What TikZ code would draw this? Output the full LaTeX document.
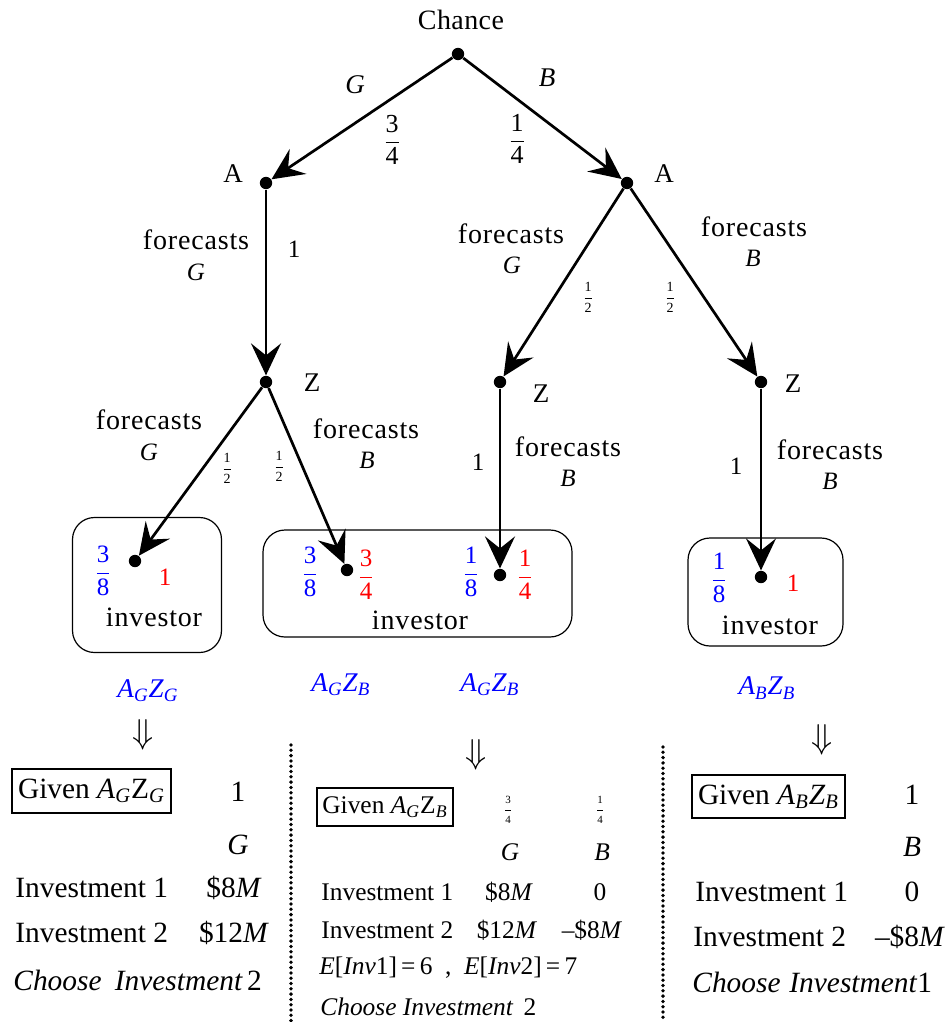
\documentclass[tikz,border=0pt]{standalone}
\usepackage{amsmath}
\usepackage{fontspec}
\setmainfont{Liberation Serif}
\usetikzlibrary{arrows.meta}
\definecolor{fblue}{RGB}{0,0,255}
\definecolor{fred}{RGB}{255,0,0}
\newcommand\fr[2]{$\genfrac{}{}{}{0}{\text{#1}}{\text{#2}}$}
\newcommand\lab[4]{#1\textsubscript{\textit{#2}}#3\textsubscript{\textit{#4}}}
\newcommand\fs[1]{\fontsize{#1}{#1}\selectfont}
\begin{document}
% coordinates are in reference pixels; 1 px = 0.5pt
\begin{tikzpicture}[x=0.5pt,y=-0.5pt,
  dot/.style={circle,fill=black,inner sep=0pt,minimum size=6.2pt},
  edge/.style={line width=1.35pt,-{Stealth[length=16pt,width=15pt,inset=6pt]}},
  t/.style={inner sep=0pt,font=\fs{13}},
  tl/.style={inner sep=0pt,font=\fs{13.5}},
  tm/.style={inner sep=0pt,font=\fs{12.5}},
  tb/.style={inner sep=0pt,font=\fs{14.7}},
  tc/.style={inner sep=0pt,font=\fs{12.7}},
  spaced/.style={inner sep=0pt,font=\fs{14}\addfontfeature{LetterSpace=3}},
  half/.style={inner sep=0pt,font=\fs{7}},
  tiny/.style={inner sep=0pt,font=\fs{5.5}},
  darr/.style={inner sep=0pt,font=\fs{17}},
  invbox/.style={draw,line width=0.6pt,rounded corners=11pt},
  givenbox/.style={draw,line width=0.6pt,inner sep=0pt},
  dots/.style={line width=1.9pt,dash pattern=on 0pt off 2.65pt,line cap=round}]
\useasboundingbox (0,0) rectangle (950,1022);

% tree nodes
\node[dot] (C) at (458,54) {};
\node[dot] (A1) at (266,183) {};
\node[dot] (A2) at (627,183) {};
\node[dot] (Z1) at (266,382) {};
\node[dot] (Z2) at (500,382) {};
\node[dot] (Z3) at (761,382) {};
\node[dot] (L1) at (135,561) {};
\node[dot] (L2) at (347,570) {};
\node[dot] (L3) at (500,575) {};
\node[dot] (L4) at (761,577) {};

% edges
\draw[edge] (C) -- (A1);
\draw[edge] (C) -- (A2);
\draw[edge] (A1) -- (Z1);
\draw[edge] (A2) -- (Z2);
\draw[edge] (A2) -- (Z3);
\draw[edge] (Z1) -- (L1);
\draw[edge] (Z1) -- (L2);
\draw[edge] (Z2) -- (L3);
\draw[edge] (Z3) -- (L4);

% top labels
\node[inner sep=0pt,font=\fs{14}\addfontfeature{LetterSpace=1.5}] (chance) at (461,20) {Chance};
\node[tl] (lA1) at (233,174) {A};
\node[tl] (lA2) at (664,174) {A};
\node[tl] (lZ1) at (312,383) {Z};
\node[tl] (lZ2) at (541,394) {Z};
\node[tl] (lZ3) at (793,384) {Z};
\node[tl] (lG) at (355,85) {\textit{G}};
\node[tl] (lB) at (547,78) {\textit{B}};
\node[t] (p34) at (392,140) {\fr{3}{4}};
\node[t] (p14) at (517,139) {\fr{1}{4}};

% forecast labels
\node[spaced] (f1) at (196,240) {forecasts};
\node[tm] (f1g) at (196,272) {\textit{G}};
\node[tm] (one1) at (294,249) {1};
\node[spaced] (f2) at (511,234) {forecasts};
\node[tm] (f2g) at (512,265) {\textit{G}};
\node[half] (h2) at (588,297) {\fr{1}{2}};
\node[spaced] (f3) at (754,227) {forecasts};
\node[tm] (f3b) at (753,258) {\textit{B}};
\node[half] (h3) at (670,297) {\fr{1}{2}};
\node[spaced] (f4) at (149,420) {forecasts};
\node[tm] (f4g) at (149,452) {\textit{G}};
\node[half] (h4) at (227,468) {\fr{1}{2}};
\node[spaced] (f5) at (366,429) {forecasts};
\node[tm] (f5b) at (367,460) {\textit{B}};
\node[half] (h5) at (279,466) {\fr{1}{2}};
\node[tm] (one2) at (478,462) {1};
\node[spaced] (f6) at (568,447) {forecasts};
\node[tm] (f6b) at (568,478) {\textit{B}};
\node[tm] (one3) at (736,466) {1};
\node[spaced] (f7) at (830,450) {forecasts};
\node[tm] (f7b) at (830,481) {\textit{B}};

% investor boxes
\node[invbox,minimum width=74.5pt,minimum height=67.5pt] (box1) at (147,585) {};
\node[invbox,minimum width=154.5pt,minimum height=53.5pt] (box2) at (417.5,583.5) {};
\node[invbox,minimum width=77.5pt,minimum height=54pt] (box3) at (765.5,592) {};
\node[tm,text=fblue] (b1a) at (103,571) {\fr{3}{8}};
\node[tm,text=fred] (b1b) at (165,577) {1};
\node[spaced] (inv1) at (154,617) {investor};
\node[tm,text=fblue] (b2a) at (310,572) {\fr{3}{8}};
\node[tm,text=fred] (b2b) at (366,575) {\fr{3}{4}};
\node[tm,text=fblue] (b2c) at (471,572) {\fr{1}{8}};
\node[tm,text=fred] (b2d) at (525,575) {\fr{1}{4}};
\node[spaced] (inv2) at (420,620) {investor};
\node[tm,text=fblue] (b3a) at (719,578) {\fr{1}{8}};
\node[tm,text=fred] (b3b) at (793,583) {1};
\node[spaced] (inv3) at (770,625) {investor};

% blue labels
\node[tl,text=fblue] (c1) at (148,691) {\lab{\textit{A}}{G}{\textit{Z}}{G}};
\node[tl,text=fblue] (c2) at (341,685) {\lab{\textit{A}}{G}{\textit{Z}}{B}};
\node[tl,text=fblue] (c3) at (490,685) {\lab{\textit{A}}{G}{\textit{Z}}{B}};
\node[tl,text=fblue] (c4) at (767,688) {\lab{\textit{A}}{B}{\textit{Z}}{B}};

% double arrows
\node[darr] (d1) at (143,735) {$\Downarrow$};
\node[darr] (d2) at (476,755) {$\Downarrow$};
\node[darr] (d3) at (822,740) {$\Downarrow$};

% dotted separators
\coordinate (s1a) at (291,745);
\coordinate (s1b) at (291,1022);
\coordinate (s2a) at (663,747);
\coordinate (s2b) at (663,1022);
\draw[dots] (s1a) -- (s1b);
\draw[dots] (s2a) -- (s2b);

% left column
\node[givenbox,tb,minimum width=79.5pt,minimum height=22pt] (g1) at (91.5,791) {Given \lab{\textit{A}}{G}{Z}{G}};
\node[tb] (l1p) at (238,792) {1};
\node[tb] (l1s) at (238,845) {\textit{G}};
\node[tb,anchor=west] (l1i1) at (15,888) {Investment 1};
\node[tb] (l1v1) at (234,888) {\$8\textit{M}};
\node[tb,anchor=west] (l1i2) at (15,933) {Investment 2};
\node[tb] (l1v2) at (234,933) {\$12\textit{M}};
\node[tb,anchor=west] (l1c) at (13,980) {\textit{Choose\hspace{0.45em}Investment}\hspace{0.15em}2};

% middle column
\node[givenbox,tc,minimum width=68pt,minimum height=19pt] (g2) at (385,807) {Given \lab{\textit{A}}{G}{Z}{B}};
\node[tiny] (m1p) at (508,810) {\fr{3}{4}};
\node[tiny] (m2p) at (600,810) {\fr{1}{4}};
\node[tc] (m1s) at (510,852) {\textit{G}};
\node[tc] (m2s) at (602,852) {\textit{B}};
\node[tc,anchor=west] (mi1) at (321,892) {Investment 1};
\node[tc] (mv11) at (509,892) {\$8\textit{M}};
\node[tc] (mv12) at (600,892) {0};
\node[tc,anchor=west] (mi2) at (321,930) {Investment 2};
\node[tc] (mv21) at (507,930) {\$12\textit{M}};
\node[tc] (mv22) at (592,930) {--\$8\textit{M}};
\node[tc,anchor=west] (me) at (319,968) {\textit{E}[\textit{Inv}1]\,=\,6 \ , \ \textit{E}[\textit{Inv}2]\,=\,7};
\node[tc,anchor=west] (mc) at (320,1007) {\textit{Choose Investment}\hspace{0.4em}2};

% right column
\node[givenbox,tb,minimum width=76.5pt,minimum height=21.5pt] (g3) at (768.5,796.5) {Given \lab{\textit{A}}{B}{\textit{Z}}{B}};
\node[tb] (r1p) at (912,795) {1};
\node[tb] (r1s) at (912,847) {\textit{B}};
\node[tb,anchor=west] (ri1) at (695,892) {Investment 1};
\node[tb] (rv1) at (912,892) {0};
\node[tb,anchor=west] (ri2) at (693,937) {Investment 2};
\node[tb] (rv2) at (910,937) {--\$8\textit{M}};
\node[tb,anchor=west] (rc) at (692,982) {\textit{Choose\hspace{0.3em}Investment}1};
\end{tikzpicture}
\end{document}
